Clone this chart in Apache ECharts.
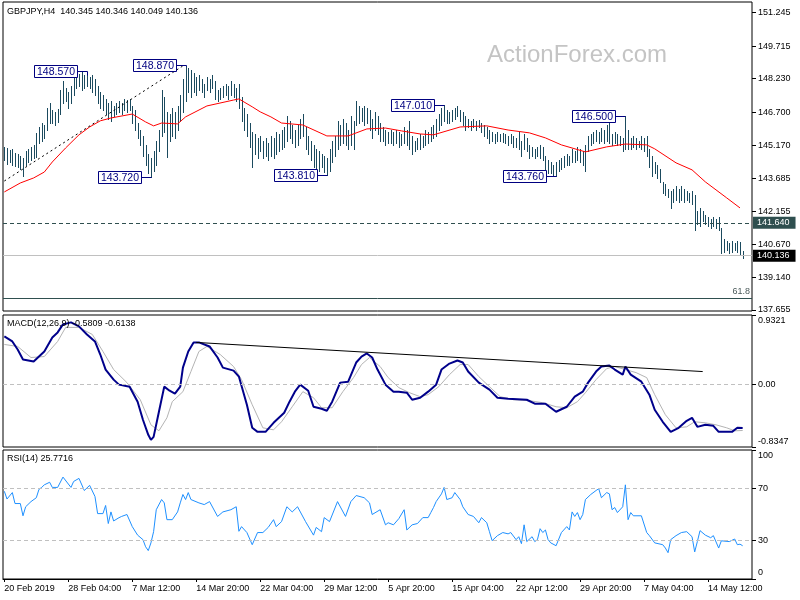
<!DOCTYPE html>
<html><head><meta charset="utf-8">
<script src="https://cdn.jsdelivr.net/npm/echarts@6/dist/echarts.min.js"></script>
<style>html,body{margin:0;padding:0;background:#fff}#c{width:800px;height:600px}</style>
</head><body><div id="c"></div>
<script>
const symbolName = 'GBPJPY,H4';
const lastOHLC = [140.345, 140.346, 140.049, 140.136];
const macdLast = [-0.5809, -0.6138];
const rsiLast = 25.7716;
const xTickLabels = ['20 Feb 2019','28 Feb 04:00','7 Mar 12:00','14 Mar 20:00','22 Mar 04:00','29 Mar 12:00','5 Apr 20:00','15 Apr 04:00','22 Apr 12:00','29 Apr 20:00','7 May 04:00','14 May 12:00'];
const priceTicks = [151.245,149.715,148.230,146.700,145.170,143.685,142.155,140.670,139.140,137.655];
const macdTicks = [0.9321, 0, -0.8347];
const rsiTicks = [100, 70, 30, 0];

const barHigh = [
145.10,145.05,144.95,145.00,144.85,144.80,144.70,144.60,144.90,145.00,
145.10,145.20,145.75,146.00,146.20,146.10,146.90,147.10,146.80,146.70,
146.85,147.70,148.10,147.80,147.60,147.90,148.40,148.30,148.45,148.52,
148.40,148.38,148.30,148.40,148.20,147.90,147.60,147.50,147.30,147.10,
147.20,147.00,147.10,147.20,147.10,147.30,147.25,147.30,147.00,146.80,
146.20,145.90,145.60,145.20,144.80,144.60,144.90,145.40,145.90,147.70,
147.40,146.70,146.60,146.90,146.70,147.00,147.50,148.20,148.80,148.70,
148.60,148.50,148.30,148.40,148.20,148.00,148.30,148.20,148.40,148.10,
147.70,147.80,147.90,148.00,147.90,148.10,148.00,147.80,148.00,147.40,
146.90,146.60,146.20,145.80,145.70,145.50,145.60,145.40,145.50,145.30,
145.60,145.50,145.80,145.70,145.90,146.00,146.50,146.30,146.10,145.90,
146.10,146.40,146.60,146.00,145.60,145.40,145.20,145.00,144.90,144.80,
144.70,144.60,145.00,145.40,145.60,146.30,146.10,146.40,146.20,145.90,
146.50,146.30,147.20,147.00,146.90,147.00,146.90,146.80,146.40,146.70,
146.50,146.20,146.00,145.90,145.80,145.90,145.80,145.90,145.80,145.70,
146.00,145.90,146.30,145.60,145.40,145.50,145.70,145.60,145.90,145.80,
146.00,146.10,146.40,146.60,146.90,147.01,146.80,146.70,146.80,146.90,
147.00,146.80,146.70,146.50,146.40,146.30,146.40,146.30,146.35,146.20,
146.10,146.00,145.90,145.80,145.70,145.80,145.70,145.75,145.70,145.60,
145.70,145.60,145.50,145.80,145.40,145.70,145.50,145.20,145.10,145.00,
145.10,145.20,145.10,144.70,144.50,144.40,144.30,144.40,144.50,144.60,
144.70,144.80,144.70,145.00,144.90,145.10,145.00,144.90,145.20,145.60,
145.70,145.80,145.90,145.80,145.95,145.90,146.10,146.20,145.70,145.80,
145.70,145.60,145.50,146.50,145.90,145.50,145.60,145.50,145.40,145.60,
145.50,145.60,145.00,144.70,144.40,144.30,144.10,143.50,143.40,143.20,
143.10,143.20,143.30,143.20,143.30,143.20,143.10,143.00,143.10,142.90,
142.20,142.30,142.20,142.00,141.90,141.80,141.90,141.80,141.90,141.40,
140.90,140.80,140.70,140.80,140.70,140.80,140.75,140.346];

const barLow = [
144.50,144.35,144.40,144.30,144.25,144.20,144.10,143.80,144.30,144.40,
144.50,144.60,144.65,145.30,145.40,145.50,145.90,146.20,146.20,146.10,
146.25,146.60,147.10,147.20,146.90,147.10,147.50,147.80,147.90,147.70,
147.80,147.90,147.80,147.60,147.50,147.10,146.90,146.80,146.60,146.40,
146.30,146.50,146.60,146.70,146.60,146.80,146.70,146.80,146.20,145.90,
145.50,145.20,144.70,144.30,143.90,143.72,144.00,144.30,144.90,145.60,
145.80,144.65,145.40,145.60,145.50,145.90,146.30,146.70,147.20,147.60,
147.40,147.60,147.50,147.70,147.60,147.40,147.70,147.60,147.80,147.30,
147.20,147.30,147.40,147.50,147.30,147.50,147.40,147.20,146.90,146.30,
145.90,145.60,145.10,144.20,144.80,144.60,144.90,144.60,144.70,144.50,
144.70,144.60,144.80,144.90,145.00,145.10,145.40,145.50,145.30,145.10,
145.20,145.50,145.60,145.00,144.80,144.50,144.20,144.10,144.00,144.20,
143.95,143.81,144.00,144.40,144.70,145.00,145.20,145.30,145.20,145.00,
145.20,145.00,146.10,146.20,146.30,146.10,146.20,145.90,145.50,145.90,
145.70,145.40,145.40,145.20,145.30,145.30,145.20,145.30,145.10,145.20,
145.30,145.20,145.00,144.80,144.90,145.00,145.00,145.10,145.20,145.30,
145.40,145.50,145.60,145.90,146.10,146.30,146.20,146.20,146.30,146.40,
146.50,146.30,146.10,145.90,146.00,145.90,146.00,145.90,146.00,145.80,
145.60,145.50,145.30,145.40,145.30,145.40,145.40,145.35,145.30,145.20,
145.30,145.10,145.10,145.00,144.70,145.00,144.90,144.60,144.70,144.60,
144.70,144.60,144.50,144.10,143.90,143.90,143.80,143.76,144.00,144.10,
144.20,144.30,144.30,144.40,144.40,144.50,144.40,144.30,144.00,144.90,
145.20,145.30,145.40,145.30,145.40,145.30,145.40,145.30,145.20,145.30,
145.20,145.20,144.90,145.00,145.00,145.00,145.10,145.00,145.10,145.00,
144.90,144.70,144.20,143.80,143.90,143.70,143.50,143.00,142.90,142.80,
142.30,142.60,142.70,142.60,142.70,142.60,142.70,142.60,142.50,141.30,
141.60,141.50,141.70,141.60,141.50,141.40,141.50,141.40,141.30,140.25,
140.30,140.40,140.25,140.30,140.40,140.30,140.20,140.049];

const maPoints = [[0,143.05],[6,143.46],[11,143.69],[15,143.96],[18,144.42],[23,145.06],[28,145.66],[32,146.02],[36,146.30],[40,146.43],[48,146.61],[53,146.25],[56,146.07],[59,146.20],[65,146.16],[68,146.48],[76,146.98],[86,147.25],[88,147.30],[93,146.94],[96,146.71],[100,146.48],[104,146.20],[112,146.11],[121,145.61],[129,145.61],[136,145.93],[143,145.97],[149,145.84],[156,145.70],[161,145.66],[171,146.02],[181,146.07],[189,145.88],[197,145.75],[203,145.52],[209,145.20],[218,144.88],[226,145.11],[233,145.24],[241,145.20],[244,145.02],[252,144.38],[258,144.06],[263,143.51],[271,142.78],[276,142.32]];

const macdMain = [[0,0.645],[3,0.578],[5,0.470],[7,0.336],[11,0.309],[15,0.444],[18,0.632],[20,0.699],[22,0.806],[25,0.833],[28,0.780],[31,0.672],[34,0.578],[36,0.403],[38,0.202],[41,0.067],[43,0.0],[47,-0.027],[50,-0.228],[52,-0.470],[54,-0.672],[55,-0.739],[56,-0.699],[58,-0.363],[60,-0.027],[62,-0.081],[64,-0.121],[66,-0.027],[67,0.228],[69,0.444],[71,0.565],[73,0.565],[77,0.511],[80,0.363],[82,0.228],[86,0.188],[88,0.108],[91,-0.269],[93,-0.578],[95,-0.632],[98,-0.632],[101,-0.511],[105,-0.376],[107,-0.228],[109,-0.094],[111,0.0],[114,-0.081],[116,-0.296],[119,-0.323],[121,-0.349],[123,-0.228],[126,0.027],[129,0.040],[132,0.296],[134,0.376],[136,0.417],[138,0.363],[140,0.202],[143,0.0],[146,-0.094],[148,-0.094],[151,-0.108],[153,-0.202],[156,-0.175],[159,-0.094],[162,0.0],[164,0.202],[167,0.282],[170,0.323],[172,0.296],[174,0.175],[178,0.027],[182,-0.067],[185,-0.175],[189,-0.188],[196,-0.202],[199,-0.255],[203,-0.255],[207,-0.363],[211,-0.296],[214,-0.161],[217,-0.094],[219,0.027],[222,0.175],[224,0.242],[227,0.255],[229,0.202],[232,0.134],[233,0.242],[235,0.134],[239,0.040],[242,-0.134],[244,-0.336],[247,-0.497],[250,-0.632],[253,-0.578],[256,-0.484],[258,-0.444],[260,-0.565],[263,-0.538],[266,-0.551],[268,-0.632],[273,-0.632],[275,-0.578],[277,-0.5809]];

const macdSignal = [[0,0.538],[5,0.511],[10,0.363],[15,0.376],[20,0.578],[23,0.766],[28,0.766],[33,0.672],[37,0.444],[41,0.202],[46,0.027],[51,-0.202],[55,-0.538],[58,-0.618],[61,-0.444],[63,-0.228],[67,-0.094],[70,0.175],[73,0.444],[76,0.511],[81,0.403],[86,0.242],[89,0.067],[93,-0.269],[97,-0.578],[101,-0.605],[104,-0.497],[108,-0.296],[112,-0.094],[116,-0.175],[119,-0.309],[123,-0.309],[127,-0.094],[131,0.094],[134,0.269],[137,0.363],[141,0.242],[144,0.094],[148,-0.040],[152,-0.108],[156,-0.161],[159,-0.134],[163,-0.027],[167,0.134],[171,0.269],[174,0.269],[178,0.108],[182,-0.027],[186,-0.161],[191,-0.202],[197,-0.215],[202,-0.242],[207,-0.296],[211,-0.309],[215,-0.228],[218,-0.108],[222,0.067],[226,0.215],[229,0.242],[233,0.202],[237,0.161],[241,0.094],[244,-0.134],[248,-0.403],[252,-0.578],[256,-0.565],[259,-0.497],[263,-0.511],[267,-0.538],[271,-0.578],[274,-0.618],[277,-0.6138]];

const rsiPoints = [[0,68],[1,62],[3,67],[4,58.5],[6,58.5],[7,49],[8,56],[10,60],[12,63],[13,69.5],[14,71],[15,73],[17,75],[18,71],[20,71],[22,79],[25,71],[26,75.6],[28,78],[30,68.6],[32,72.6],[34,64],[35,50.7],[37,50.7],[38,57],[39,43],[40,52],[41,45],[43,47.5],[44,48.5],[46,50],[48,40.6],[50,34],[52,30.5],[53,25],[54,22],[55,28],[56,36.7],[57,53.7],[59,61.6],[60,59],[61,46],[63,46],[65,52],[66,59],[67,65.5],[68,61.6],[69,67],[70,61.6],[73,59],[75,57.7],[77,60],[80,48.5],[82,52],[85,53.7],[87,56],[88,37],[89,40.6],[91,36],[93,26.6],[95,36],[97,36],[99,40],[101,46],[102,40.6],[104,44.5],[106,56],[108,52],[110,56],[113,44.5],[116,34],[117,40],[119,36.7],[120,47.6],[122,44.5],[125,60],[128,48.5],[130,60],[132,64.7],[135,63],[137,59],[138,50],[141,53.7],[143,42],[144,43.6],[146,42],[148,46.8],[150,53.7],[151,38],[153,42],[155,43],[157,47.6],[159,47.6],[160,51.5],[161,55.4],[162,60],[164,66],[165,71],[166,61.6],[168,63],[169,67],[171,61.6],[172,56],[174,50],[176,48.5],[178,43.6],[179,47.6],[181,43.6],[182,36.7],[183,29.7],[185,33.6],[187,36],[189,35],[190,36],[192,30.5],[193,32.8],[194,27.4],[195,42],[196,29],[198,32.8],[199,29],[200,30.5],[201,39],[202,36],[203,38],[204,30.5],[205,28],[207,25.8],[209,36],[211,40.6],[212,38],[213,52],[214,48.5],[215,51.5],[216,46],[217,50],[218,61.6],[220,65.5],[222,68.6],[223,70],[224,63],[226,67],[227,66],[228,53.7],[229,55.4],[230,51.5],[232,56],[233,73],[234,46],[235,51.5],[236,49],[239,49],[241,36],[242,33.6],[244,28],[247,26.6],[248,24],[249,20.4],[250,30.5],[252,33.6],[254,36],[256,36.7],[258,32.8],[259,21],[260,29],[261,37.5],[263,34],[265,32],[266,33.6],[268,24],[269,29.6],[272,29],[274,31],[275,26.6],[276,27],[277,25.7716]];

const swingIdx = [31, 68, 55, 121, 165, 207, 233];
const swingPrice = [148.570, 148.870, 143.720, 143.810, 147.010, 143.760, 146.500];
const swingKind = ['high', 'high', 'low', 'low', 'high', 'low', 'high'];
const resistanceLevel = 141.640;
const fibLevel = 138.21;
const fibText = '61.8';
const priceTrend = [[0, 143.55], [67, 148.81]];
const macdTrend = [[72, 0.565], [262, 0.175]];
const watermark = 'ActionForex.com';

const FF = '"Liberation Sans", Arial, sans-serif';
const barColor = '#1B4A5E';
const slate = '#2F4F4F';
const navy = '#000080';
const nCat = barHigh.length + 3;
const cats = [];
for (let i = 0; i < nCat; i++) cats.push((i % 24 === 0 && xTickLabels[i / 24]) ? xTickLabels[i / 24] : 'b' + i);

const bars = barHigh.map((h, i) => [i, h, barLow[i]]);
const swings = swingIdx.map((i, k) => [i, swingPrice[k], swingKind[k] === 'high' ? barHigh[i] : barLow[i]]);

const txt = {fontFamily: FF, fontSize: 9, color: '#000'};
const macdMax = macdTicks[0], macdMin = macdTicks[macdTicks.length - 1];

const chart = echarts.init(document.getElementById('c'), null, {renderer: 'canvas'});
chart.setOption({
  animation: false,
  backgroundColor: '#fff',
  title: [
    {left: 7, top: 7, padding: 0, text: symbolName + '  ' + lastOHLC.map(v => v.toFixed(3)).join(' '), textStyle: Object.assign({fontWeight: 'normal'}, txt)},
    {left: 7, top: 319, padding: 0, text: 'MACD(12,26,9) ' + macdLast.map(v => v.toFixed(4)).join(' '), textStyle: Object.assign({fontWeight: 'normal'}, txt)},
    {left: 7, top: 454, padding: 0, text: 'RSI(14) ' + rsiLast.toFixed(4), textStyle: Object.assign({fontWeight: 'normal'}, txt)}
  ],
  graphic: [{type: 'text', left: 487, top: 43, z: 0, silent: true, style: {text: watermark, fill: '#C4C4C4', font: '24px "Liberation Sans", Arial, sans-serif'}}],
  grid: [
    {left: 3, width: 749, top: 2, height: 309, show: true, borderColor: '#000', borderWidth: 1, backgroundColor: 'transparent'},
    {left: 3, width: 749, top: 315, height: 132, show: true, borderColor: '#000', borderWidth: 1, backgroundColor: 'transparent'},
    {left: 3, width: 749, top: 450, height: 129, show: true, borderColor: '#000', borderWidth: 1, backgroundColor: 'transparent'}
  ],
  xAxis: [
    {type: 'category', gridIndex: 0, data: cats, boundaryGap: true, show: false},
    {type: 'category', gridIndex: 1, data: cats, boundaryGap: true, show: false},
    {type: 'category', gridIndex: 2, data: cats, boundaryGap: true,
     axisLine: {show: true, lineStyle: {color: '#000'}},
     axisTick: {show: true, interval: 23, alignWithLabel: true, length: 3, lineStyle: {color: '#000'}},
     axisLabel: Object.assign({interval: 23, align: 'left', margin: 5, formatter: v => v.charAt(0) === 'b' ? '' : v}, txt),
     splitLine: {show: false}}
  ],
  yAxis: [
    {type: 'value', gridIndex: 0, position: 'right', min: 137.61, max: 151.73, scale: true,
     splitLine: {show: false}, axisLine: {show: false},
     axisTick: {show: true, customValues: priceTicks, length: 4, lineStyle: {color: '#000'}},
     axisLabel: Object.assign({customValues: priceTicks, margin: 6, formatter: v => v.toFixed(3)}, txt)},
    {type: 'value', gridIndex: 1, position: 'right', min: macdMin, max: macdMax,
     splitLine: {show: false}, axisLine: {show: false},
     axisTick: {show: true, customValues: macdTicks, length: 4, lineStyle: {color: '#000'}},
     axisLabel: Object.assign({customValues: macdTicks, margin: 6,
       formatter: v => v === macdMax ? '{t|' + v.toFixed(4) + '}' : (v === macdMin ? '{b|' + v.toFixed(4) + '}' : v.toFixed(2)),
       rich: {t: Object.assign({padding: [11, 0, 0, 0]}, txt), b: Object.assign({padding: [0, 0, 11, 0]}, txt)}}, txt)},
    {type: 'value', gridIndex: 2, position: 'right', min: 0, max: 100,
     splitLine: {show: false}, axisLine: {show: false},
     axisTick: {show: true, customValues: rsiTicks, length: 4, lineStyle: {color: '#000'}},
     axisLabel: Object.assign({customValues: rsiTicks, margin: 6,
       formatter: v => v === 100 ? '{t|100}' : (v === 0 ? '{b|0}' : String(v)),
       rich: {t: Object.assign({padding: [12, 0, 0, 0]}, txt), b: Object.assign({padding: [0, 0, 12, 0]}, txt)}}, txt)}
  ],
  series: [
    {type: 'line', xAxisIndex: 0, yAxisIndex: 0, data: [], silent: true, z: 1,
     markLine: {silent: true, symbol: 'none', animation: false, precision: 3, data: [
       {yAxis: resistanceLevel, lineStyle: {color: slate, width: 1, type: [4, 3]},
        label: {show: true, position: 'end', distance: 1, formatter: resistanceLevel.toFixed(3), backgroundColor: slate, color: '#fff', padding: [2, 6, 1, 4], fontSize: 9, fontFamily: FF}},
       {yAxis: lastOHLC[3], lineStyle: {color: '#C0C0C0', width: 1, type: 'solid'},
        label: {show: true, position: 'end', distance: 1, formatter: lastOHLC[3].toFixed(3), backgroundColor: '#000', color: '#fff', padding: [2, 6, 1, 4], fontSize: 9, fontFamily: FF}},
       {yAxis: fibLevel, lineStyle: {color: slate, width: 1, type: 'solid'},
        label: {show: true, position: 'insideEndTop', distance: 2, formatter: fibText, color: '#4A5A5A', fontSize: 9, fontFamily: FF}}
     ]}},
    {type: 'custom', xAxisIndex: 0, yAxisIndex: 0, data: bars, silent: true, z: 2, clip: true,
     encode: {x: 0, y: [1, 2]},
     renderItem: function (params, api) {
       const i = api.value(0);
       const t = api.coord([i, api.value(1)]);
       const b = api.coord([i, api.value(2)]);
       const x = Math.round(t[0]) + 0.5;
       return {type: 'line', shape: {x1: x, y1: Math.round(t[1]), x2: x, y2: Math.round(b[1]) + 1}, style: {stroke: barColor, lineWidth: 1}};
     }},
    {type: 'line', xAxisIndex: 0, yAxisIndex: 0, data: maPoints, symbol: 'none', silent: true, z: 3,
     lineStyle: {color: '#FF0000', width: 1}},
    {type: 'line', xAxisIndex: 0, yAxisIndex: 0, data: priceTrend, symbol: 'none', silent: true, z: 3,
     lineStyle: {color: '#000', width: 1, type: [2, 3]}},
    {type: 'custom', xAxisIndex: 0, yAxisIndex: 0, data: swings, silent: true, z: 4, clip: false,
     encode: {x: 0, y: 1},
     renderItem: function (params, api) {
       const i = api.value(0), p = api.value(1), ext = api.value(2);
       const a = api.coord([i, p]);
       const e = api.coord([i, ext]);
       const bx = Math.round(a[0]) + 0.5, cy = Math.round(a[1]) + 0.5;
       const right = bx - 10;
       return {type: 'group', children: [
         {type: 'polyline', shape: {points: [[right, cy], [bx, cy], [bx, Math.round(e[1]) + 0.5]]}, style: {stroke: navy, fill: null, lineWidth: 1}},
         {type: 'rect', shape: {x: right - 43, y: cy - 6, width: 43, height: 12}, style: {fill: '#fff', stroke: navy, lineWidth: 1}},
         {type: 'text', style: {text: p.toFixed(3), x: right - 21.5, y: cy + 0.5, align: 'center', verticalAlign: 'middle', fill: navy, fontSize: 10.5, fontFamily: FF}}
       ]};
     }},
    {type: 'line', xAxisIndex: 1, yAxisIndex: 1, data: macdSignal, symbol: 'none', silent: true, z: 2,
     lineStyle: {color: '#B4B4B4', width: 1},
     markLine: {silent: true, symbol: 'none', label: {show: false}, data: [{yAxis: 0, lineStyle: {color: '#C0C0C0', width: 1, type: [4, 3]}}]}},
    {type: 'line', xAxisIndex: 1, yAxisIndex: 1, data: macdMain, symbol: 'none', silent: true, z: 3,
     lineStyle: {color: '#00008B', width: 2}},
    {type: 'line', xAxisIndex: 1, yAxisIndex: 1, data: macdTrend, symbol: 'none', silent: true, z: 4,
     lineStyle: {color: '#000', width: 1}},
    {type: 'line', xAxisIndex: 2, yAxisIndex: 2, data: rsiPoints, symbol: 'none', silent: true, z: 3,
     lineStyle: {color: '#1E90FF', width: 1},
     markLine: {silent: true, symbol: 'none', label: {show: false}, data: [
       {yAxis: 70, lineStyle: {color: '#C0C0C0', width: 1, type: [4, 3]}},
       {yAxis: 30, lineStyle: {color: '#C0C0C0', width: 1, type: [4, 3]}}
     ]}}
  ]
});
</script></body></html>
